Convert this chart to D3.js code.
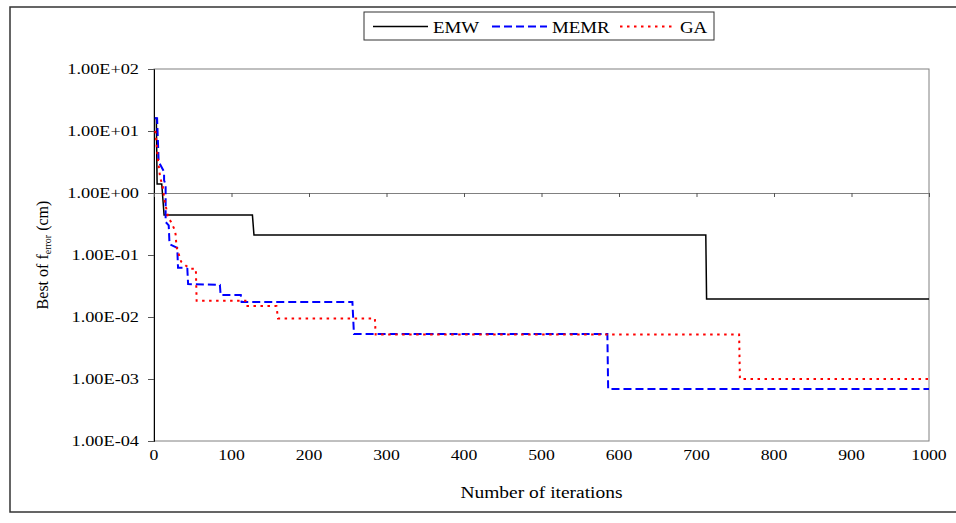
<!DOCTYPE html>
<html>
<head>
<meta charset="utf-8">
<script src="https://cdn.jsdelivr.net/npm/d3@7"></script>
<style>
  body { margin: 0; background: #fff; }
  text { font-family: "Liberation Serif", "Times New Roman", serif; fill: #000; }
</style>
</head>
<body>
<svg id="canvas" width="956" height="523"></svg>
<script>
// ---- data ----
let xTicks = [0, 100, 200, 300, 400, 500, 600, 700, 800, 900, 1000]
let yTicks = [1e2, 1e1, 1e0, 1e-1, 1e-2, 1e-3, 1e-4]
let yTickLabels = ['1.00E+02', '1.00E+01', '1.00E+00', '1.00E-01', '1.00E-02', '1.00E-03', '1.00E-04']
let seriesNames = ['EMW', 'MEMR', 'GA']

let emwIter  = [1, 3, 4, 10, 13, 127, 129, 712, 713, 1000]
let emwError = [16, 16, 1.4, 1.4, 0.44, 0.44, 0.21, 0.21, 0.0195, 0.0195]

let memrIter  = [1, 4, 6, 13, 13, 15, 15, 19, 20, 30, 31, 37, 43, 44, 85, 86, 112, 113, 256, 258, 585, 586, 1000]
let memrError = [16, 16, 3.2, 2.2, 1.6, 1.35, 0.34, 0.3, 0.15, 0.13, 0.062, 0.062, 0.06, 0.034, 0.033, 0.0226, 0.0226, 0.0175, 0.0175, 0.0053, 0.0053, 0.00069, 0.00069]

let gaIter  = [1, 2, 5, 8, 11, 12, 13, 16, 18, 22, 27, 28, 29, 35, 42, 48, 54, 55, 118, 119, 158, 160, 285, 286, 755, 756, 1000]
let gaError = [10, 9.5, 3.5, 1.75, 1.35, 1.1, 0.83, 0.55, 0.41, 0.34, 0.25, 0.21, 0.135, 0.078, 0.066, 0.06, 0.06, 0.0183, 0.0183, 0.015, 0.015, 0.0095, 0.0095, 0.0052, 0.0052, 0.001, 0.001]

// ---- layout ----
let stretch = 1.18   // the original picture is a little wider than tall
let canvas = d3.select('#canvas')

let x = d3.scaleLinear().domain([0, 1000]).range([154, 929])
let y = d3.scaleLog().domain([1e-4, 1e2]).range([441, 69])

// outer chart border
canvas.append('rect')
      .attr('x', 10).attr('y', 7)
      .attr('width', 960).attr('height', 505)
      .attr('fill', 'none')
      .attr('stroke', '#333')
      .attr('stroke-width', 1.5)

// plot area border
canvas.append('rect')
      .attr('x', x(0)).attr('y', y(1e2))
      .attr('width', x(1000) - x(0)).attr('height', y(1e-4) - y(1e2))
      .attr('fill', 'none')
      .attr('stroke', '#808080')
      .attr('stroke-width', 1)

// y axis
let yAxis = canvas.append('g')
      .attr('transform', 'translate(' + x(0) + ',0)')
      .call(d3.axisLeft(y).tickValues(yTicks).tickSize(6).tickFormat((d, i) => yTickLabels[i]))
yAxis.select('.domain').attr('stroke', '#000')
yAxis.selectAll('.tick line').attr('stroke', '#555')
yAxis.selectAll('.tick text')
     .attr('font-family', null)
     .attr('font-size', 15.5)
     .attr('x', -15 / stretch)
     .attr('transform', 'scale(' + stretch + ',1)')

// x axis crossing at 1
let xAxis = canvas.append('g')
      .attr('transform', 'translate(0,' + y(1) + ')')
      .call(d3.axisBottom(x).tickValues(xTicks).tickSize(4).tickFormat(''))
xAxis.select('.domain').attr('stroke', '#808080')
xAxis.selectAll('.tick line').attr('stroke', '#555')

// x tick labels at the bottom
canvas.selectAll('.xlabel')
      .data(xTicks)
      .enter()
      .append('text')
      .attr('class', 'xlabel')
      .attr('transform', (d) => 'translate(' + x(d) + ',460) scale(' + stretch + ',1)')
      .attr('text-anchor', 'middle')
      .attr('font-size', 15)
      .text((d) => d)

// axis titles
canvas.append('text')
      .attr('transform', 'translate(' + (x(0) + x(1000)) / 2 + ',498) scale(' + stretch + ',1)')
      .attr('text-anchor', 'middle')
      .attr('font-size', 16.5)
      .text('Number of iterations')

let yTitle = canvas.append('text')
      .attr('transform', 'translate(48,' + (y(1e2) + y(1e-4)) / 2 + ') rotate(-90)')
      .attr('text-anchor', 'middle')
      .attr('font-size', 16)
yTitle.append('tspan').text('Best of f')
yTitle.append('tspan').attr('font-size', 10).attr('dy', 3).text('error')
yTitle.append('tspan').attr('dy', -3).text(' (cm)')

// series
let styles = [
  { color: '#000', dash: null, width: 1.5 },
  { color: '#0000FF', dash: '8,4', width: 2 },
  { color: '#FF0000', dash: '2.5,4.5', width: 2 }
]
let seriesData = [
  d3.zip(emwIter, emwError),
  d3.zip(memrIter, memrError),
  d3.zip(gaIter, gaError)
]

let line = d3.line()
      .x((d) => x(d[0]))
      .y((d) => y(d[1]))

canvas.selectAll('.series')
      .data(seriesData)
      .enter()
      .append('path')
      .attr('class', 'series')
      .attr('d', line)
      .attr('fill', 'none')
      .attr('stroke', (d, i) => styles[i].color)
      .attr('stroke-width', (d, i) => styles[i].width)
      .attr('stroke-dasharray', (d, i) => styles[i].dash)

// legend
canvas.append('rect')
      .attr('x', 364).attr('y', 12)
      .attr('width', 350).attr('height', 28)
      .attr('fill', '#fff')
      .attr('stroke', '#333')
      .attr('stroke-width', 1)

let legendX = [373, 492, 620]
let legend = canvas.selectAll('.legend')
      .data(seriesNames)
      .enter()
      .append('g')
      .attr('class', 'legend')
      .attr('transform', (d, i) => 'translate(' + legendX[i] + ',26.5)')
legend.append('line')
      .attr('x1', 0).attr('x2', 55)
      .attr('stroke', (d, i) => styles[i].color)
      .attr('stroke-width', (d, i) => styles[i].width)
      .attr('stroke-dasharray', (d, i) => styles[i].dash)
legend.append('text')
      .attr('transform', 'translate(60,6) scale(' + stretch + ',1)')
      .attr('font-size', 16)
      .text((d) => d)
</script>
</body>
</html>
